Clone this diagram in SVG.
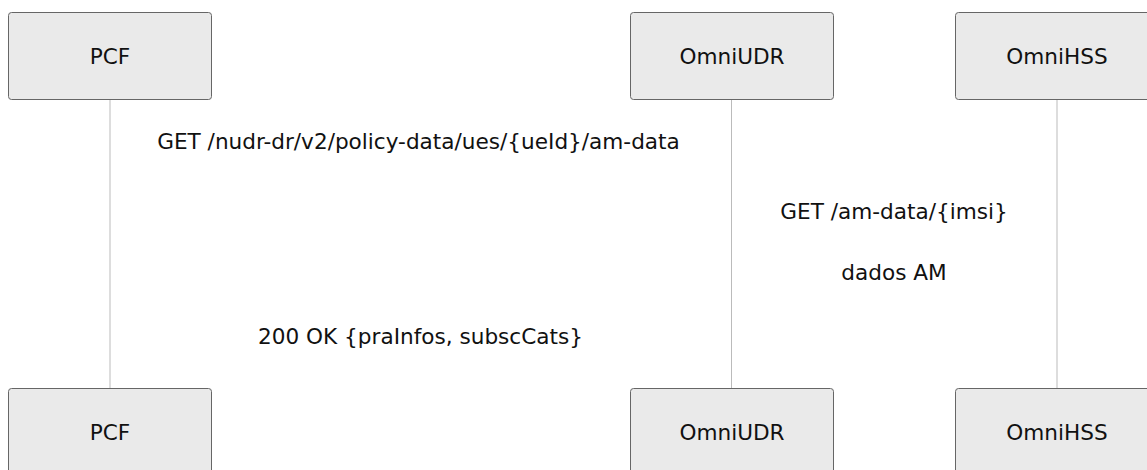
<svg xmlns="http://www.w3.org/2000/svg" width="1147" height="470" viewBox="0 0 1147 470">
<style>
.box{fill:#eaeaea;stroke:#666;stroke-width:1}
.life{stroke:#bbb;stroke-width:1;fill:none}
text{font-family:"DejaVu Sans","Noto Sans",sans-serif;font-size:21.6px;fill:#111}
.c{text-anchor:middle;dominant-baseline:central}
</style>
<rect width="1147" height="470" fill="#fff"/>
<g id="lifelines">
<line class="life" x1="110" y1="100" x2="110" y2="388"/>
<line class="life" x1="731.5" y1="100" x2="731.5" y2="388"/>
<line class="life" x1="1057" y1="100" x2="1057" y2="388"/>
</g>
<g id="pcf-top"><rect class="box" x="8.5" y="12.5" width="203" height="87" rx="3"/><text class="c" x="110" y="56">PCF</text></g>
<g id="udr-top"><rect class="box" x="630.5" y="12.5" width="203" height="87" rx="3"/><text class="c" x="732" y="56">OmniUDR</text></g>
<g id="hss-top"><rect class="box" x="955.5" y="12.5" width="203" height="87" rx="3"/><text class="c" x="1057" y="56">OmniHSS</text></g>
<g id="pcf-bottom"><rect class="box" x="8.5" y="388.5" width="203" height="87" rx="3"/><text class="c" x="110" y="432">PCF</text></g>
<g id="udr-bottom"><rect class="box" x="630.5" y="388.5" width="203" height="87" rx="3"/><text class="c" x="732" y="432">OmniUDR</text></g>
<g id="hss-bottom"><rect class="box" x="955.5" y="388.5" width="203" height="87" rx="3"/><text class="c" x="1057" y="432">OmniHSS</text></g>
<g id="connectors">
<text class="c" x="418.5" y="141">GET /nudr-dr/v2/policy-data/ues/{ueId}/am-data</text>
<text class="c" x="894" y="211">GET /am-data/{imsi}</text>
<text class="c" x="894" y="272">dados AM</text>
<text class="c" x="420.5" y="336">200 OK {praInfos, subscCats}</text>
</g>
</svg>
